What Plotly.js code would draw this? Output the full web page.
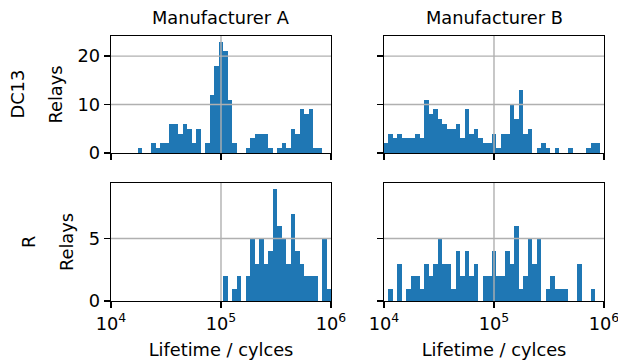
<!DOCTYPE html>
<html>
<head>
<meta charset="utf-8">
<script src="https://cdn.plot.ly/plotly-3.0.1.min.js"></script>
<style>
  html, body { margin: 0; padding: 0; background: #ffffff; }
  #chart { width: 618px; height: 361px; }
</style>
</head>
<body>
<div id="chart"></div>
<script>
// Histogram of relay lifetimes: 49 log-spaced bins between 1e4 and 1e6 cycles
const LOG_MIN = 4;
const LOG_MAX = 6;
const N_BINS = 49;

const manufacturers = ['Manufacturer A', 'Manufacturer B'];
const relayTypes = ['DC13', 'R'];

// counts per bin (bin 0 starts at 1e4)
const countsDC13A = [0,0,0,0,0,0,1,0,0,2, 1,2,2,6,6,4,6,5,2,5, 0,2,12,18,23,21,11,2,0,0, 1,3,4,4,4,1,0,1,2,1, 5,4,9,8,9,1,1,0,0];
const countsDC13B = [2,4,3,4,3,3,3,4,3,11, 8,9,7,6,5,5,6,3,9,4, 5,3,2,2,4,1,4,4,10,7, 13,4,5,0,1,2,1,0,1,0, 0,1,0,0,0,1,2,2,0];
const countsRA = [0,0,0,0,0,0,0,0,0,0, 0,0,0,0,0,0,0,0,0,0, 0,0,0,0,0,2,0,1,2,0, 2,5,3,5,3,4,9,6,5,3, 7,4,3,2,2,2,0,5,1];
const countsRB = [0,1,0,3,0,1,2,2,1,3, 2,3,5,3,3,1,4,2,4,2, 3,0,2,2,4,2,2,4,3,6, 1,2,5,3,5,0,1,2,1,1, 1,0,0,3,0,0,1,0,0];

const xTickVals = [4, 5, 6];
const xTickText = ['10<sup>4</sup>', '10<sup>5</sup>', '10<sup>6</sup>'];
const yTickValsDC13 = [0, 10, 20];
const yTickValsR = [0, 5];

const BAR_COLOR = '#1f77b4';
const GRID_COLOR = '#b0b0b0';
const FONT = 'DejaVu Sans, sans-serif';
const FS = 17.8;

const binWidth = (LOG_MAX - LOG_MIN) / N_BINS;
const binCenters = Array.from({length: N_BINS}, (_, i) => LOG_MIN + (i + 0.5) * binWidth);

const panels = [
  {counts: countsDC13A, n: ''},
  {counts: countsDC13B, n: '2'},
  {counts: countsRA, n: '3'},
  {counts: countsRB, n: '4'}
];

const traces = panels.map(p => ({
  type: 'bar',
  x: binCenters,
  y: p.counts,
  width: binWidth,
  marker: {color: BAR_COLOR, line: {width: 0}},
  xaxis: 'x' + p.n,
  yaxis: 'y' + p.n,
  showlegend: false,
  hoverinfo: 'x+y'
}));

const maxDC13 = Math.max(...countsDC13A, ...countsDC13B);
const maxR = Math.max(...countsRA, ...countsRB);
const rangeDC13 = [0, maxDC13 * 1.05];
const rangeR = [0, maxR * 1.05];

const W = 618, H = 361;
const colDomains = [[111 / W, 331 / W], [384 / W, 604 / W]];
const rowDomains = [[1 - 153 / H, 1 - 36 / H], [1 - 301 / H, 1 - 183 / H]];

function xAxis(col, row, anchor) {
  const ax = {
    domain: colDomains[col],
    anchor: anchor,
    range: [LOG_MIN, LOG_MAX],
    tickmode: 'array',
    tickvals: xTickVals,
    ticktext: xTickText,
    showticklabels: row === 1,
    ticklabeloverflow: 'allow',
    ticks: 'outside', ticklen: 6, tickwidth: 1.4, tickcolor: '#000',
    showline: true, mirror: true, linecolor: '#000', linewidth: 1.4,
    showgrid: false, zeroline: false,
    tickfont: {family: FONT, size: FS, color: '#000'},
    automargin: false,
    fixedrange: true
  };
  if (row === 1) {
    ax.title = {text: 'Lifetime / cylces', font: {family: FONT, size: FS, color: '#000'}, standoff: 10};
  }
  return ax;
}

function yAxis(col, row, anchor) {
  const ax = {
    domain: rowDomains[row],
    anchor: anchor,
    range: row === 0 ? rangeDC13 : rangeR,
    tickmode: 'array',
    tickvals: row === 0 ? yTickValsDC13 : yTickValsR,
    showticklabels: col === 0,
    ticks: 'outside', ticklen: 6, tickwidth: 1.4, tickcolor: '#000',
    showline: true, mirror: true, linecolor: '#000', linewidth: 1.4,
    showgrid: false, zeroline: false,
    tickfont: {family: FONT, size: FS, color: '#000'},
    automargin: false,
    fixedrange: true
  };
  if (col === 0) {
    ax.title = {text: 'Relays', font: {family: FONT, size: FS, color: '#000'}, standoff: 10};
  }
  return ax;
}

// grid lines drawn over the bars at interior tick positions
const shapes = [];
panels.forEach((p, k) => {
  const row = k < 2 ? 0 : 1;
  const yTicks = row === 0 ? yTickValsDC13 : yTickValsR;
  xTickVals.slice(1, -1).forEach(v => shapes.push({
    type: 'line', layer: 'above', xref: 'x' + p.n, yref: 'y' + p.n + ' domain',
    x0: v, x1: v, y0: 0, y1: 1, line: {color: GRID_COLOR, width: 1.4}
  }));
  yTicks.filter(v => v > 0).forEach(v => shapes.push({
    type: 'line', layer: 'above', xref: 'x' + p.n + ' domain', yref: 'y' + p.n,
    x0: 0, x1: 1, y0: v, y1: v, line: {color: GRID_COLOR, width: 1.4}
  }));
});

const annotations = [];
manufacturers.forEach((m, i) => annotations.push({
  text: m, xref: 'x' + (i === 0 ? '' : '2') + ' domain', yref: 'paper',
  x: 0.5, y: rowDomains[0][1], yshift: 6, xanchor: 'center', yanchor: 'bottom',
  showarrow: false, font: {family: FONT, size: FS, color: '#000'}
}));
const rowLabelX = [17, 28];
relayTypes.forEach((r, i) => annotations.push({
  text: r, xref: 'paper', yref: 'paper',
  x: rowLabelX[i] / W, y: (rowDomains[i][0] + rowDomains[i][1]) / 2,
  xanchor: 'center', yanchor: 'middle', textangle: -90,
  showarrow: false, font: {family: FONT, size: FS, color: '#000'}
}));

const layout = {
  width: W, height: H,
  margin: {l: 0, r: 0, t: 0, b: 0},
  paper_bgcolor: '#ffffff', plot_bgcolor: '#ffffff',
  bargap: 0,
  font: {family: FONT, size: FS, color: '#000'},
  xaxis: xAxis(0, 0, 'y'),
  yaxis: yAxis(0, 0, 'x'),
  xaxis2: xAxis(1, 0, 'y2'),
  yaxis2: yAxis(1, 0, 'x2'),
  xaxis3: xAxis(0, 1, 'y3'),
  yaxis3: yAxis(0, 1, 'x3'),
  xaxis4: xAxis(1, 1, 'y4'),
  yaxis4: yAxis(1, 1, 'x4'),
  shapes: shapes,
  annotations: annotations
};

Plotly.newPlot('chart', traces, layout, {displayModeBar: false, staticPlot: true});
</script>
</body>
</html>
